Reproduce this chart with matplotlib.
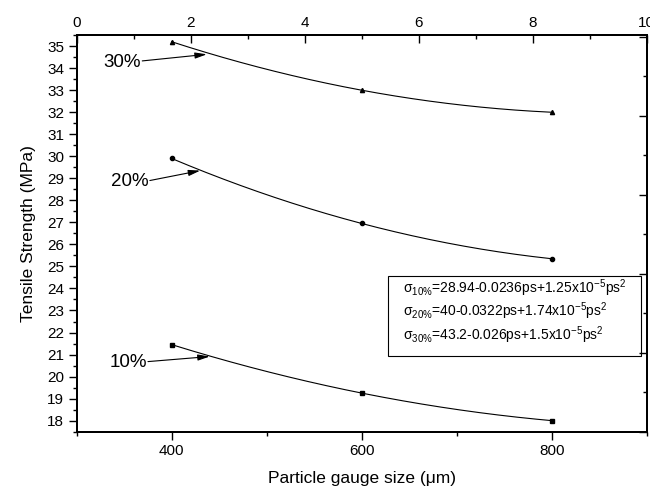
import matplotlib
matplotlib.use("Agg")
import matplotlib.pyplot as plt
import numpy as np
from matplotlib.patches import Rectangle
from matplotlib.ticker import MultipleLocator

plt.rcParams['font.family'] = ['Liberation Sans', 'DejaVu Sans']
plt.rcParams['mathtext.fontset'] = 'custom'
plt.rcParams['mathtext.rm'] = 'Liberation Sans'
plt.rcParams['mathtext.it'] = 'Liberation Sans:italic'

# data
size = [400, 600, 800]
s10 = [21.45, 19.25, 18.0]
s20 = [29.9, 26.95, 25.35]
s30 = [35.2, 33.0, 32.0]
labels = ["10%", "20%", "30%"]
markers = ["s", "o", "^"]
# where the percent labels sit and where their arrows point
text_xy = [(354, 20.63), (356, 28.85), (348, 34.28)]
tip_xy = [(440, 20.91), (430, 29.35), (437, 34.63)]
eqs = [r"σ$_{10\%}$=28.94-0.0236ps+1.25x10$^{-5}$ps$^2$",
       r"σ$_{20\%}$=40-0.0322ps+1.74x10$^{-5}$ps$^2$",
       r"σ$_{30\%}$=43.2-0.026ps+1.5x10$^{-5}$ps$^2$"]

fig = plt.figure(figsize=(6.5, 4.95), dpi=100)
ax = fig.add_axes([0.118, 0.128, 0.877, 0.801])

xs = np.linspace(400, 800, 200)
for ys, m, lab, txy, tip in zip([s10, s20, s30], markers, labels, text_xy, tip_xy):
    c = np.polyfit(size, ys, 2)
    ax.plot(xs, np.polyval(c, xs), color="black", lw=0.8)
    ax.plot(size, ys, m, color="black", ms=3)
    ax.annotate("", xy=tip, xytext=(txy[0] + 21, txy[1] + 0.05),
                arrowprops=dict(arrowstyle="-|>,head_length=0.7,head_width=0.18",
                                color="black", lw=0.8, shrinkA=0, shrinkB=0))
    ax.text(txy[0], txy[1], lab, fontsize=13.5, ha="center", va="center")

ax.set_xlim(300, 900)
ax.set_ylim(17.5, 35.5)
ax.xaxis.set_major_locator(MultipleLocator(200))
ax.xaxis.set_minor_locator(MultipleLocator(100))
ax.yaxis.set_major_locator(MultipleLocator(1))
ax.yaxis.set_minor_locator(MultipleLocator(0.5))
ax.tick_params(which="major", direction="out", length=5.5, width=1, labelsize=11)
ax.tick_params(which="minor", direction="out", length=3.2, width=1)
ax.set_xlabel("Particle gauge size (μm)", fontsize=12.5, labelpad=9)
ax.set_ylabel("Tensile Strength (MPa)", fontsize=12.5, labelpad=8)

top = ax.twiny()
top.set_xlim(0, 10)
top.xaxis.set_major_locator(MultipleLocator(2))
top.xaxis.set_minor_locator(MultipleLocator(1))
top.tick_params(which="major", direction="in", length=5.5, width=1, labelsize=11)
top.tick_params(which="minor", direction="in", length=3.2, width=1)

right = ax.twinx()
right.set_ylim(-1, 4.02)
right.yaxis.set_major_locator(MultipleLocator(1))
right.yaxis.set_minor_locator(MultipleLocator(0.5))
right.tick_params(which="major", direction="in", length=5.5, width=1, labelright=False)
right.tick_params(which="minor", direction="in", length=3.2, width=1)

for a in (ax, top, right):
    for sp in a.spines.values():
        sp.set_linewidth(1.3)

# equation box
fig.patches.append(Rectangle((388 / 650, 1 - 356 / 495), 253 / 650, 80 / 495,
                             transform=fig.transFigure, fill=False,
                             edgecolor="black", lw=0.8))
for i, e in enumerate(eqs):
    fig.text(403 / 650, 1 - (288 + 23.5 * i) / 495, e, fontsize=10, va="center")

fig.savefig("out.png", dpi=100)
